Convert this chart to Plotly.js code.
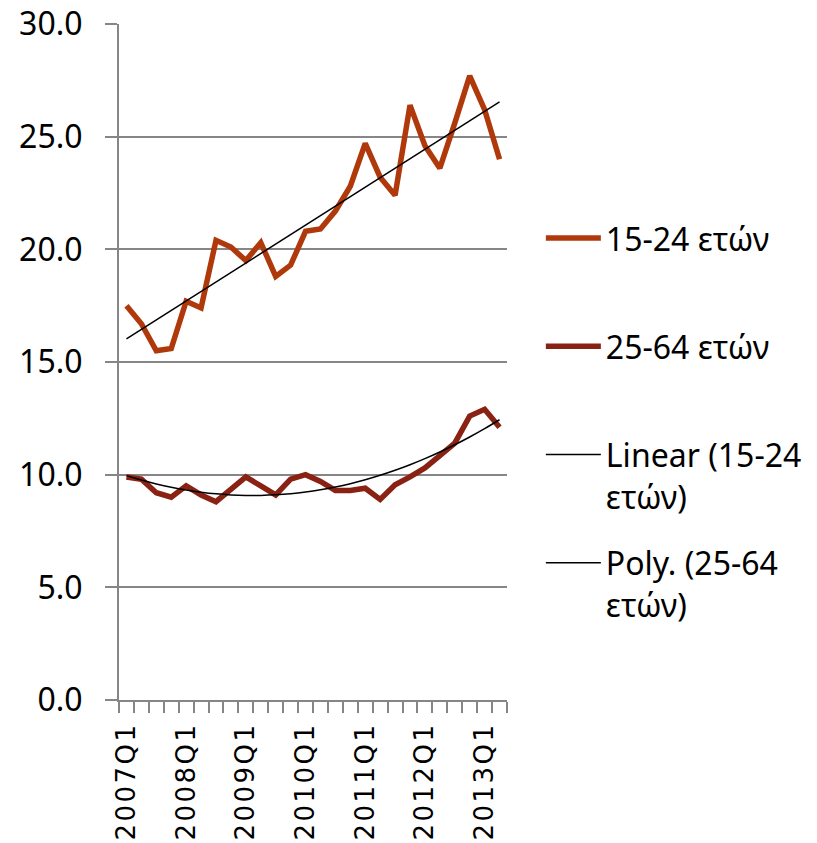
<!DOCTYPE html>
<html>
<head>
<meta charset="utf-8">
<script src="https://cdn.plot.ly/plotly-3.0.1.min.js"></script>
<style>
  html, body { margin: 0; padding: 0; background: #fff; }
  #chart { width: 817px; height: 843px; }
  .xtick text { letter-spacing: 2.5px; }
</style>
</head>
<body>
<div id="chart"></div>
<script>
// Quarters (categories)
const quarters = [
  '2007Q1','2007Q2','2007Q3','2007Q4',
  '2008Q1','2008Q2','2008Q3','2008Q4',
  '2009Q1','2009Q2','2009Q3','2009Q4',
  '2010Q1','2010Q2','2010Q3','2010Q4',
  '2011Q1','2011Q2','2011Q3','2011Q4',
  '2012Q1','2012Q2','2012Q3','2012Q4',
  '2013Q1','2013Q2'
];
// Unemployment rate, 15-24 years
const y1524 = [17.5,16.7,15.5,15.6,17.7,17.4,20.4,20.1,19.5,20.3,18.8,19.3,20.8,20.9,21.7,22.8,24.7,23.2,22.4,26.4,24.6,23.6,25.6,27.7,26.2,24.0];
// Unemployment rate, 25-64 years
const y2564 = [9.9,9.8,9.2,9.0,9.5,9.1,8.8,9.35,9.9,9.5,9.1,9.8,10.0,9.7,9.3,9.3,9.4,8.9,9.55,9.9,10.3,10.85,11.4,12.6,12.9,12.1];
// Labelled ticks
const labelledQuarters = ['2007Q1','2008Q1','2009Q1','2010Q1','2011Q1','2012Q1','2013Q1'];
const yTicks = [0,5,10,15,20,25,30];
const names = ['15-24 ετών', '25-64 ετών', 'Linear (15-24<br>ετών)', 'Poly. (25-64<br>ετών)'];

// Trendlines fitted to the data (least squares), as Excel does
function linearFit(ys) {
  const n = ys.length; let sx=0, sy=0, sxx=0, sxy=0;
  ys.forEach((y,i)=>{ const x=i+1; sx+=x; sy+=y; sxx+=x*x; sxy+=x*y; });
  const b = (n*sxy - sx*sy)/(n*sxx - sx*sx); const a = (sy - b*sx)/n;
  return ys.map((_,i)=> a + b*(i+1));
}
function quadFit(ys) {
  const S = [0,0,0,0,0], T = [0,0,0];
  ys.forEach((y,i)=>{ const x=i+1; let p=1; for(let k=0;k<5;k++){S[k]+=p; if(k<3)T[k]+=p*y; p*=x;} });
  const M = [[S[0],S[1],S[2],T[0]],[S[1],S[2],S[3],T[1]],[S[2],S[3],S[4],T[2]]];
  for (let c=0;c<3;c++){ for(let r=c+1;r<3;r++){ const f=M[r][c]/M[c][c]; for(let k=c;k<4;k++) M[r][k]-=f*M[c][k]; } }
  const coef=[0,0,0];
  for (let r=2;r>=0;r--){ let s=M[r][3]; for(let k=r+1;k<3;k++) s-=M[r][k]*coef[k]; coef[r]=s/M[r][r]; }
  return ys.map((_,i)=>{ const x=i+1; return coef[0]+coef[1]*x+coef[2]*x*x; });
}

const tickText = quarters.map(q => labelledQuarters.includes(q) ? q : '');

const traces = [
  { x: quarters, y: y1524, type: 'scatter', mode: 'lines', name: names[0] + '<br>&nbsp;',
    legendgroup: 'a', line: { color: '#B0390C', width: 5.5 } },
  { x: quarters, y: y2564, type: 'scatter', mode: 'lines', name: names[1] + '<br>&nbsp;',
    legendgroup: 'b', line: { color: '#8A2214', width: 5.5 } },
  { x: quarters, y: linearFit(y1524), type: 'scatter', mode: 'lines', name: names[2],
    legendgroup: 'c', line: { color: '#000000', width: 1.5 } },
  { x: quarters, y: quadFit(y2564), type: 'scatter', mode: 'lines', name: names[3],
    legendgroup: 'd', line: { color: '#000000', width: 1.5, shape: 'spline' } }
];

const gray = '#868686';
const layout = {
  width: 817, height: 843,
  margin: { l: 119, r: 310, t: 24, b: 143, pad: 0 },
  paper_bgcolor: '#ffffff', plot_bgcolor: '#ffffff',
  font: { family: '"Noto Sans", sans-serif', size: 32, color: '#000000' },
  showlegend: true,
  legend: {
    xref: 'container', yref: 'container',
    x: 0.662, y: 0.75, xanchor: 'left', yanchor: 'top',
    valign: 'top', itemwidth: 55, tracegroupgap: 22,
    font: { family: '"Noto Sans", sans-serif', size: 32, color: '#000000' },
    bgcolor: 'rgba(0,0,0,0)', borderwidth: 0
  },
  xaxis: {
    type: 'category', range: [-0.5, 25.5],
    tickmode: 'array', tickvals: quarters, ticktext: tickText,
    tickson: 'boundaries', ticks: 'outside', ticklen: 11, tickwidth: 2, tickcolor: gray,
    tickangle: -90, ticklabelstandoff: 10,
    tickfont: { family: '"DejaVu Sans", sans-serif', size: 26, color: '#000000' },
    showline: true, linecolor: gray, linewidth: 2,
    showgrid: false, zeroline: false, fixedrange: true
  },
  yaxis: {
    range: [0, 30], tickmode: 'array', tickvals: yTicks, tickformat: '.1f',
    ticks: 'outside', ticklen: 12, tickwidth: 2, tickcolor: gray,
    ticklabelstandoff: 16,
    tickfont: { family: '"Noto Sans", sans-serif', size: 32, color: '#000000' },
    showline: true, linecolor: gray, linewidth: 2,
    showgrid: true, gridcolor: gray, gridwidth: 2,
    zeroline: false, fixedrange: true
  }
};

Plotly.newPlot('chart', traces, layout, { staticPlot: true, displayModeBar: false });
</script>
</body>
</html>
